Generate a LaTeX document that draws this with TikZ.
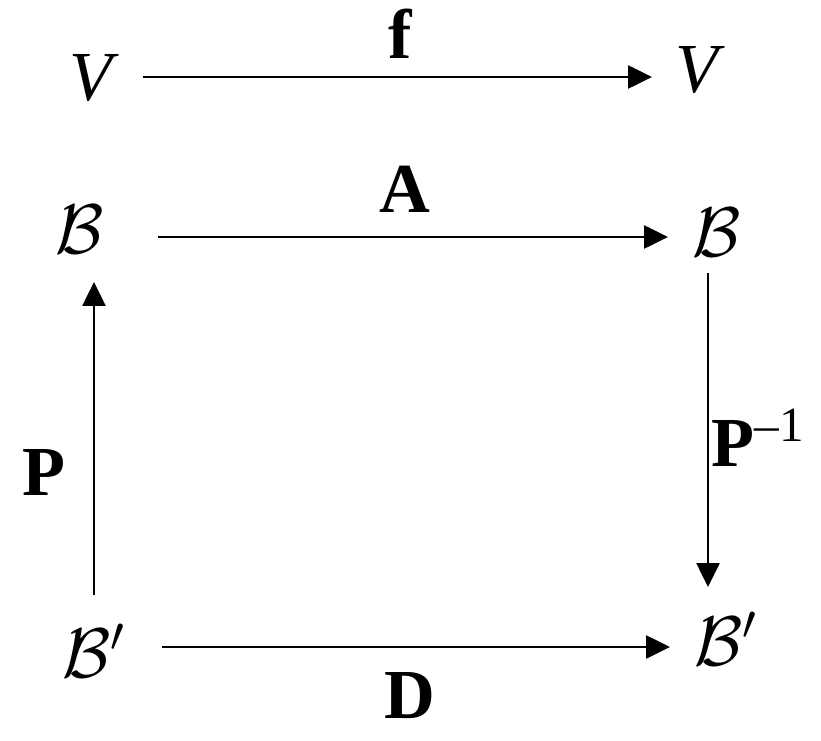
\documentclass[tikz,border=0pt]{standalone}
\usepackage{fix-cm}
\usepackage{fontspec}
\setmainfont{Liberation Serif}
\usetikzlibrary{arrows.meta}

\begin{document}
\begin{tikzpicture}[
  x=0.02cm, y=-0.02cm,
  every node/.style={font=\fontsize{40}{46}\selectfont, inner sep=0pt},
  map/.style={-{Triangle[length=0.48cm, width=0.46cm]}, line width=1.5pt},
  lbl/.style={font=\fontsize{40}{46}\selectfont\bfseries}
]
  \useasboundingbox (0,0) rectangle (821,740);

  % objects
  \node (v1) at (94,78)  {\textit{V}};
  \node (v2) at (700,70) {\textit{V}};
  \node (b1) at (80,229)  {$\mathcal{B}$};
  \node (b2) at (717,232) {$\mathcal{B}$};
  \node (b3) at (94,651)  {$\mathcal{B}'$};
  \node (b4) at (726,639) {$\mathcal{B}'$};

  % maps
  \draw[map, shorten <=49*0.02cm, shorten >=48*0.02cm] ([yshift=1*0.02cm]v1.center) -- ([yshift=-7*0.02cm]v2.center);
  \draw[map, shorten <=78*0.02cm, shorten >=49*0.02cm] ([yshift=-8*0.02cm]b1.center) -- ([yshift=-5*0.02cm]b2.center);
  \draw[map, shorten <=68*0.02cm, shorten >=56*0.02cm] ([yshift=4*0.02cm]b3.center) -- ([yshift=-8*0.02cm]b4.center);
  \draw[map, shorten <=56*0.02cm, shorten >=53*0.02cm] (b3.center) -- ([xshift=14*0.02cm]b1.center);
  \draw[map, shorten <=41*0.02cm, shorten >=52*0.02cm] ([xshift=-9*0.02cm]b2.center) -- ([xshift=-18*0.02cm]b4.center);

  % labels
  \node[lbl] (f) at (400,34)  {f};
  \node[lbl] (a) at (405,189) {A};
  \node[lbl] (d) at (410,696) {D};
  \node[lbl] (p) at (44,472)  {P};
  \node[lbl] (pinv) at (758,438) {P\textsuperscript{\mdseries\textendash1}};
\end{tikzpicture}
\end{document}
